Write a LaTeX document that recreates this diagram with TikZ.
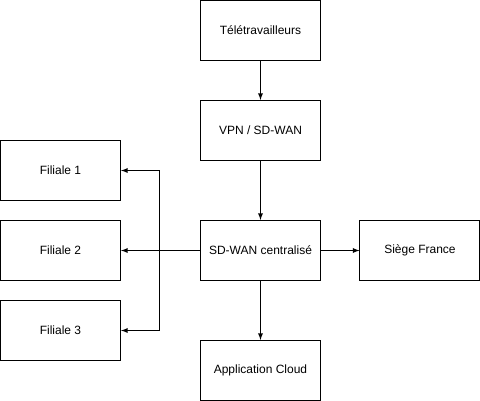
\documentclass[tikz,border=0pt]{standalone}
\usepackage{fontspec}
\setmainfont{Liberation Sans}
\usetikzlibrary{calc}
\tikzset{>=latex}
\tikzset{box/.style={draw, line width=0.75pt, minimum width=90pt, minimum height=45pt, inner sep=0pt, font=\fontsize{9}{11}\selectfont}}
\tikzset{link/.style={->, line width=0.75pt}}

\begin{document}
\begin{tikzpicture}[x=0.75pt,y=-0.75pt]
        \useasboundingbox (0,0) rectangle (480,401);
        \node[box] (tele) at (260.5,30.5) {Télétravailleurs};
        \node[box] (vpn) at (260.5,130.5) {VPN / SD-WAN};
        \node[box] (sdwan) at (260.5,250.5) {SD-WAN centralisé};
        \node[box] (cloud) at (260.5,370.5) {Application Cloud};
        \node[box] (siege) at (420,250.5) {Siège France};
        \node[box] (fil1) at (60.5,170.5) {Filiale 1};
        \node[box] (fil2) at (60.5,250.5) {Filiale 2};
        \node[box] (fil3) at (60.5,330.5) {Filiale 3};
        \draw[link] (tele) -- (vpn);
        \draw[link] (vpn) -- (sdwan);
        \draw[link] (sdwan) -- (cloud);
        \draw[link] (sdwan) -- (siege);
        \draw[link] (sdwan) -- (fil2);
        \draw[link] (sdwan.west) -- ++(-40,0) |- (fil1.east);
        \draw[link] (sdwan.west) -- ++(-40,0) |- (fil3.east);
        \end{tikzpicture}
\end{document}
